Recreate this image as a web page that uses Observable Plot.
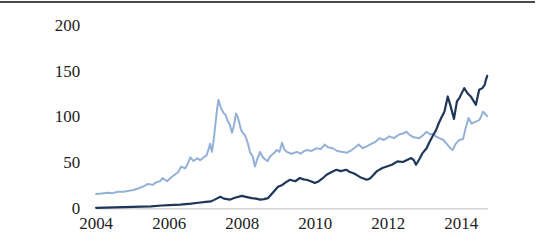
<!DOCTYPE html>
<html><head><meta charset="utf-8">
<script src="https://cdn.jsdelivr.net/npm/d3@7"></script>
<script src="https://cdn.jsdelivr.net/npm/@observablehq/plot@0.6"></script>
<style>
html,body{margin:0;padding:0;background:#fff;}
#wrap{margin-top:1px;border-top:2px solid #4a4a4a;width:535px;}
#wrap svg{display:block;overflow:visible;}
</style></head><body><div id="wrap"></div>
<script>
const lightYears = [2004.00,2004.15,2004.30,2004.45,2004.60,2004.75,2004.90,2005.02,2005.15,2005.30,2005.42,2005.55,2005.65,2005.75,2005.82,2005.94,2006.05,2006.15,2006.25,2006.33,2006.44,2006.52,2006.58,2006.67,2006.77,2006.85,2006.94,2007.02,2007.08,2007.12,2007.17,2007.22,2007.26,2007.31,2007.35,2007.40,2007.44,2007.50,2007.55,2007.60,2007.66,2007.72,2007.78,2007.83,2007.88,2007.93,2007.97,2008.03,2008.08,2008.15,2008.22,2008.28,2008.35,2008.42,2008.49,2008.55,2008.62,2008.70,2008.76,2008.85,2008.95,2009.02,2009.09,2009.15,2009.22,2009.35,2009.50,2009.60,2009.70,2009.77,2009.90,2010.04,2010.15,2010.26,2010.35,2010.48,2010.60,2010.75,2010.86,2011.00,2011.10,2011.19,2011.30,2011.41,2011.55,2011.65,2011.76,2011.88,2012.03,2012.15,2012.30,2012.40,2012.50,2012.60,2012.70,2012.85,2012.95,2013.05,2013.15,2013.23,2013.30,2013.40,2013.51,2013.62,2013.70,2013.76,2013.85,2013.95,2014.05,2014.12,2014.20,2014.28,2014.40,2014.50,2014.60,2014.66,2014.71];
const lightValues = [16,16.5,17.5,17,18.5,18.5,19.5,20.5,22,24.5,27,26,29,30,33.5,30,34,37,40,46,44,50,56,52,55,53,56,58,65,71,62,75,90,108,119,112,108,104,102,96,92,83,92,104,100,92,86,82,80,72,61,58,46,55,62,57,54,52,57,60,64,62,72,65,62,60,62,60,63,64,63,66,65,70,67,66,63,62,61,64,67,70,66,68,71,73,77,75,79,77,81,82,84,80,78,77,80,84,81,82,79,77,75,70,66,64,71,75,76,88,99,93,95,97,106,103,101];
const darkYears = [2004.00,2004.50,2005.00,2005.50,2005.80,2006.00,2006.30,2006.60,2006.80,2007.00,2007.15,2007.30,2007.40,2007.50,2007.67,2007.80,2007.99,2008.10,2008.26,2008.38,2008.49,2008.60,2008.71,2008.85,2008.98,2009.10,2009.20,2009.31,2009.45,2009.58,2009.68,2009.76,2009.88,2009.99,2010.10,2010.20,2010.31,2010.45,2010.58,2010.70,2010.85,2010.95,2011.03,2011.13,2011.25,2011.41,2011.50,2011.60,2011.68,2011.84,2011.96,2012.10,2012.25,2012.40,2012.50,2012.63,2012.70,2012.76,2012.85,2012.94,2013.05,2013.12,2013.21,2013.30,2013.38,2013.45,2013.54,2013.63,2013.70,2013.80,2013.88,2013.95,2014.08,2014.17,2014.26,2014.33,2014.40,2014.49,2014.58,2014.64,2014.67,2014.71];
const darkValues = [1,1.5,2,2.5,3.5,4,4.5,5.5,6.5,7.5,8,11,13,11,10,12,14,13,11.6,11,10,10.5,11.6,18,24,26,29,31.6,30,33.5,32,31.6,30,28,30,33,37,40,42.5,41,42.5,40,39,37,34,31.6,33,37,40.7,44.4,46,48,51.6,51,53,55.3,53,48,54,60.7,66,72,78.8,85,93,99,106,122.5,113,98,117,121,131.6,126,122.5,118,113.4,129.8,131.6,135,140,145];
const xTicks = [2004,2006,2008,2010,2012,2014];
const yTicks = [0,50,100,150,200];

const light = lightYears.map((t,i)=>({t, v: lightValues[i]}));
const dark = darkYears.map((t,i)=>({t, v: darkValues[i]}));

const chart = Plot.plot({
  width: 537,
  height: 242,
  marginLeft: 96,
  marginRight: 47,
  marginTop: 22,
  marginBottom: 36,
  style: {fontFamily: "'Liberation Serif', 'Times New Roman', serif", fontSize: "17px", color: "#222", background: "#fff"},
  x: {type: "linear", domain: [2004, 2014.75], ticks: xTicks, tickFormat: d => String(d), tickSize: 0, tickPadding: 8, label: null},
  y: {domain: [0, 200], ticks: yTicks, tickSize: 0, tickPadding: 16, label: null},
  marks: [
    Plot.ruleY([0], {stroke: "#d6d6d6", strokeWidth: 1.5}),
    Plot.line(light, {x: "t", y: "v", stroke: "#93b1d6", strokeWidth: 2}),
    Plot.line(dark, {x: "t", y: "v", stroke: "#1e3658", strokeWidth: 2.2})
  ]
});
document.getElementById("wrap").appendChild(chart);
</script>
</body></html>
